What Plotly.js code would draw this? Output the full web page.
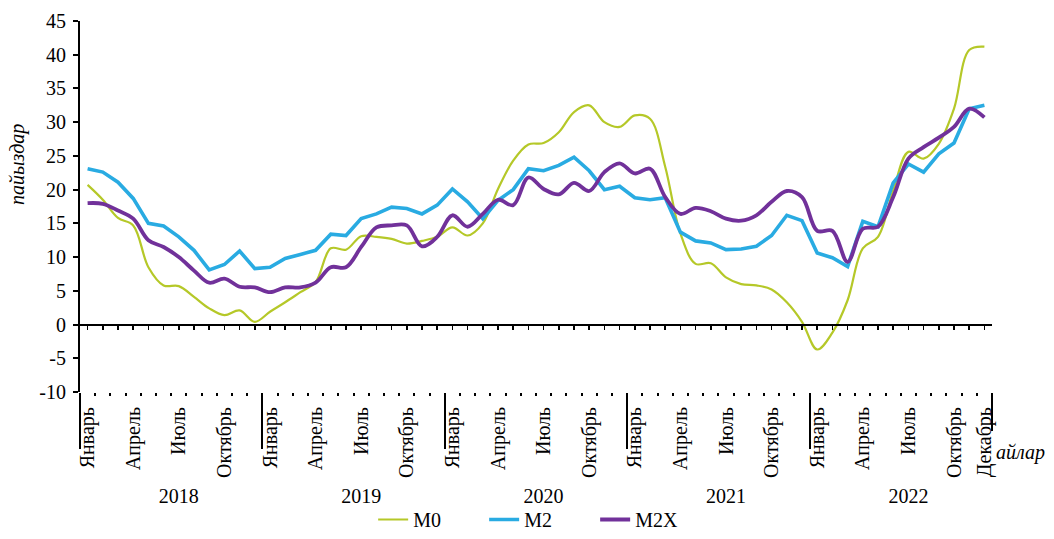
<!DOCTYPE html>
<html>
<head>
<meta charset="utf-8">
<script src="https://cdn.plot.ly/plotly-3.0.1.min.js"></script>
<style>html,body{margin:0;padding:0;background:#fff;}#chart{width:1054px;height:539px;}</style>
</head>
<body>
<div id="chart"></div>
<script>
// ---- data (monthly, Jan 2018 – Dec 2022), %
const years = ['2018', '2019', '2020', '2021', '2022'];
const monthNames = ['Январь', 'Апрель', 'Июль', 'Октябрь'];
const monthOffsets = [0, 3, 6, 9];
const lastMonthName = 'Декабрь';
const seriesNames = ['M0', 'M2', 'M2X'];
const yTickVals = [-10, -5, 0, 5, 10, 15, 20, 25, 30, 35, 40, 45];
const yTickText = ['-10', '-5', '0', '5', '10', '15', '20', '25', '30', '35', '40', '45'];

const m0 = [
  20.7, 18.5, 15.8, 14.7, 8.5, 5.8, 5.7, 4.1, 2.4, 1.4, 2.1, 0.4,
  1.9, 3.3, 4.8, 6.3, 11.3, 11.1, 13.1, 13.0, 12.7, 12.0, 12.4, 13.0,
  14.4, 13.2, 15.0, 20.1, 24.3, 26.7, 26.9, 28.5, 31.5, 32.5, 30.0, 29.3,
  31.0, 30.5, 23.4, 13.5, 9.0, 9.1, 7.0, 6.0, 5.8, 5.2, 3.3, 0.4,
  -3.7, -1.2, 3.6, 11.3, 13.0, 19.9, 25.6, 24.6, 26.8, 32.0, 40.7, 41.2
];
const m2 = [
  23.1, 22.6, 21.1, 18.7, 15.0, 14.6, 13.0, 11.0, 8.1, 8.9, 10.9, 8.3,
  8.5, 9.8, 10.4, 11.0, 13.4, 13.2, 15.7, 16.4, 17.4, 17.2, 16.4, 17.7,
  20.1, 18.2, 15.7, 18.4, 20.0, 23.1, 22.8, 23.6, 24.8, 22.8, 20.0, 20.5,
  18.8, 18.5, 18.8, 13.7, 12.4, 12.1, 11.1, 11.2, 11.6, 13.2, 16.2, 15.4,
  10.6, 9.9, 8.6, 15.3, 14.5, 21.0, 23.8, 22.6, 25.3, 26.9, 32.0, 32.5
];
const m2x = [
  18.0, 17.9, 16.9, 15.7, 12.5, 11.5, 10.0, 8.0, 6.2, 6.8, 5.6, 5.5,
  4.8, 5.5, 5.5, 6.2, 8.5, 8.5, 11.5, 14.4, 14.7, 14.7, 11.6, 13.0,
  16.2, 14.5, 16.4, 18.5, 17.7, 21.8, 20.1, 19.3, 21.0, 19.8, 22.6, 23.9,
  22.4, 23.1, 18.9, 16.4, 17.3, 16.8, 15.7, 15.4, 16.2, 18.2, 19.8, 18.9,
  13.9, 13.9, 9.3, 14.2, 14.5, 18.9, 24.6, 26.3, 27.7, 29.3, 32.0, 30.7
];

// ---- derived helpers
const nMonths = years.length * 12;
const xPos = m0.map((_, i) => i + 0.5);            // month centres
const monthTickVals = [], monthTickText = [];
years.forEach((y, k) => monthOffsets.forEach((o, j) => {
  monthTickVals.push(k * 12 + o + 0.5); monthTickText.push(monthNames[j]);
}));
monthTickVals.push(nMonths - 0.5); monthTickText.push(lastMonthName);
const yearTickVals = years.map((_, k) => k * 12 + 6.5);
const yearBounds = years.map((_, k) => k * 12);
const monthBounds = Array.from({length: nMonths + 1}, (_, i) => i);

const FONT = '"Liberation Serif", "Times New Roman", Times, serif';
const colors = ['#B5C828', '#29ABE2', '#71319A'];
const widths = [2.2, 3.6, 3.8];
const shapes = ['spline', 'linear', 'spline'];
const data = [m0, m2, m2x].map((vals, k) => ({
  type: 'scatter', mode: 'lines', name: seriesNames[k],
  x: xPos, y: vals, xaxis: 'x', yaxis: 'y',
  line: {color: colors[k], width: widths[k], shape: shapes[k], smoothing: 1},
  hoverinfo: 'skip'
}));
// carrier traces so that the decorative overlay axes get drawn
['x2', 'x3', 'x4', 'x5', 'x6'].forEach(ax => data.push({
  type: 'scatter', mode: 'lines', x: [0], y: [null], xaxis: ax, yaxis: 'y',
  showlegend: false, hoverinfo: 'skip'
}));

const yMin = -10, yMax = 45;
const base = {range: [0, nMonths], showgrid: false, zeroline: false, fixedrange: true};
const layout = {
  width: 1054, height: 539,
  margin: {l: 80, r: 62, t: 21, b: 147, pad: 0},
  paper_bgcolor: '#fff', plot_bgcolor: '#fff',
  font: {family: FONT, size: 20, color: '#000'},
  showlegend: true,
  legend: {
    orientation: 'h', xref: 'paper', yref: 'container',
    x: 0.504, xanchor: 'center', y: -0.011, yanchor: 'bottom',
    font: {family: FONT, size: 20, color: '#000'},
    entrywidth: 66, entrywidthmode: 'pixels', itemwidth: 30,
    bgcolor: 'rgba(0,0,0,0)', traceorder: 'normal'
  },
  xaxis: Object.assign({}, base, {
    anchor: 'y', showline: false, ticks: '',
    tickmode: 'array', tickvals: monthTickVals, ticktext: monthTickText,
    tickangle: -90, ticklabelstandoff: 10,
    tickfont: {family: FONT, size: 20, color: '#000'}
  }),
  xaxis2: Object.assign({}, base, {
    overlaying: 'x', anchor: 'y', side: 'bottom', showline: false,
    ticks: 'outside', ticklen: 3, tickwidth: 2, tickcolor: '#000',
    tickmode: 'array', tickvals: monthBounds, showticklabels: false
  }),
  xaxis3: Object.assign({}, base, {
    overlaying: 'x', anchor: 'y', side: 'bottom', showline: false,
    ticks: 'outside', ticklen: 56, tickwidth: 2, tickcolor: '#000',
    tickmode: 'array', tickvals: yearBounds, showticklabels: false
  }),
  xaxis4: Object.assign({}, base, {
    overlaying: 'x', anchor: 'y', side: 'bottom', showline: false,
    ticks: 'outside', ticklen: 38, tickwidth: 2, tickcolor: '#000',
    tickmode: 'array', tickvals: [nMonths], showticklabels: false
  }),
  xaxis5: Object.assign({}, base, {
    overlaying: 'x', anchor: 'free', position: (0 - yMin) / (yMax - yMin), side: 'bottom',
    showline: true, linewidth: 2, linecolor: '#000',
    ticks: 'outside', ticklen: 4, tickwidth: 1.5, tickcolor: '#000',
    tickmode: 'array', tickvals: xPos, showticklabels: false
  }),
  xaxis6: Object.assign({}, base, {
    overlaying: 'x', anchor: 'y', side: 'bottom', showline: false, ticks: '',
    tickmode: 'array', tickvals: yearTickVals, ticktext: years,
    ticklabelstandoff: 90,
    tickfont: {family: FONT, size: 20, color: '#000'}
  }),
  yaxis: {
    range: [yMin, yMax], showgrid: false, zeroline: false,
    tickmode: 'array', tickvals: yTickVals, ticktext: yTickText,
    showline: true, linewidth: 2, linecolor: '#000',
    ticks: 'outside', ticklen: 5, tickwidth: 2, tickcolor: '#000',
    ticklabelstandoff: 3, fixedrange: true,
    tickfont: {family: FONT, size: 20, color: '#000'}
  },
  annotations: [
    {text: 'пайыздар', textangle: -90, xref: 'paper', yref: 'paper',
     x: 0, xanchor: 'center', xshift: -62, y: 0.612, yanchor: 'middle',
     showarrow: false, font: {family: FONT, size: 20, color: '#000', style: 'italic'}},
    {text: 'айлар', xref: 'paper', yref: 'paper',
     x: 1, xanchor: 'left', xshift: 2, y: -0.162, yanchor: 'middle',
     showarrow: false, font: {family: FONT, size: 20, color: '#000', style: 'italic'}}
  ]
};

Plotly.newPlot('chart', data, layout, {staticPlot: true, displayModeBar: false});
</script>
</body>
</html>
